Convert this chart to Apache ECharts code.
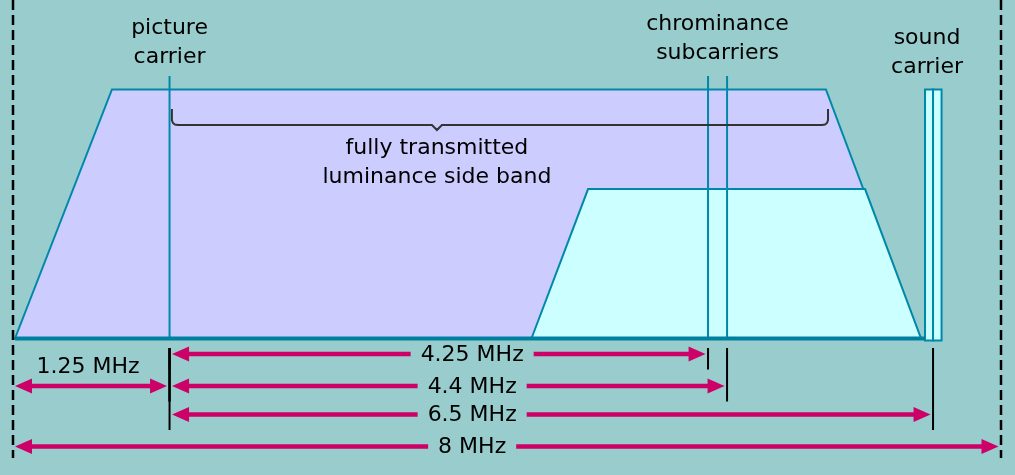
<!DOCTYPE html>
<html><head><meta charset="utf-8">
<script src="https://cdn.jsdelivr.net/npm/echarts@6/dist/echarts.min.js"></script>
<style>html,body{margin:0;padding:0;background:#99cccc}#c{width:1015px;height:475px}</style>
</head><body><div id="c"></div>
<script>
// ---- data: frequency positions in MHz from the lower channel edge (as drawn), amplitude 0..1 ----
const channelEdges = [0, 8];
const luminanceBand = [[0.02, 0], [0.805, 1], [6.583, 1], [7.34, 0]];
const chromaBand = [[4.2, 0], [4.658, 0.6], [6.9, 0.6], [7.353, 0]];
const pictureCarrier = 1.271;
const chromaSubcarriers = [5.629, 5.783];
const soundCarrier = [7.385, 7.45, 7.519];
const braceSpan = [1.29, 3.435, 6.6];
const carrierLabels = ['picture\ncarrier', 'chrominance\nsubcarriers', 'sound\ncarrier'];
const bandLabel = 'fully transmitted\nluminance side band';
const dimLabels = ['1.25 MHz', '4.25 MHz', '4.4 MHz', '6.5 MHz', '8 MHz'];
const dimFrom = [0, 1.271, 1.271, 1.271, 0];
const dimTo = [1.271, 5.629, 5.783, 7.45, 8];

// ---- layout / style constants ----
const FONT = '22px "DejaVu Sans", Verdana, sans-serif';
const BLUE = '#0088aa';
const MAGENTA = '#cc0066';
const BG = '#99cccc';
const dimRowOffset = [47.5, 15.5, 47.5, 76, 108];
const dimLabelX = [null, 3.72, 3.72, 3.72, 3.72];

const chart = echarts.init(document.getElementById('c'), null, {renderer: 'canvas'});

function bandItem(points, fill) {
  return function (params, api) {
    const pts = points.map(p => api.coord(p));
    return {type: 'polygon', shape: {points: pts}, style: {fill: fill, stroke: BLUE, lineWidth: 2}};
  };
}

const series = [];
series.push({type: 'custom', clip: false, silent: true, data: [0], renderItem: bandItem(luminanceBand, '#ccccff')});
series.push({type: 'custom', clip: false, silent: true, data: [0], renderItem: bandItem(chromaBand, '#ccffff')});
// carrier lines (picture + chroma)
series.push({type: 'custom', clip: false, silent: true,
  data: [pictureCarrier].concat(chromaSubcarriers).map(v => [v]),
  renderItem: function (params, api) {
    const b = api.coord([api.value(0), 0]);
    const t = api.coord([api.value(0), 1]);
    return {type: 'line', shape: {x1: b[0], y1: b[1], x2: t[0], y2: t[1] - 13.5}, style: {stroke: BLUE, lineWidth: 2}};
  }});
// sound carrier double bar
series.push({type: 'custom', clip: false, silent: true,
  data: [[soundCarrier[0], soundCarrier[1]], [soundCarrier[1], soundCarrier[2]]],
  renderItem: function (params, api) {
    const a = api.coord([api.value(0), 1]);
    const b = api.coord([api.value(1), 0]);
    return {type: 'rect', shape: {x: a[0], y: a[1], width: b[0] - a[0], height: b[1] - a[1] + 2}, style: {fill: '#ccffff', stroke: BLUE, lineWidth: 2}};
  }});
// baseline
series.push({type: 'custom', clip: false, silent: true, data: [[luminanceBand[0][0], soundCarrier[0]]],
  renderItem: function (params, api) {
    const a = api.coord([api.value(0), 0]);
    const b = api.coord([api.value(1), 0]);
    return {type: 'line', shape: {x1: a[0], y1: a[1], x2: b[0], y2: b[1]}, style: {stroke: '#0080a0', lineWidth: 4}};
  }});
// brace
series.push({type: 'custom', clip: false, silent: true, data: [braceSpan],
  renderItem: function (params, api) {
    const l = api.coord([api.value(0), 1]);
    const c = api.coord([api.value(1), 1]);
    const r = api.coord([api.value(2), 1]);
    const y = l[1] + 35.5, yt = y - 16;
    const pts = [[l[0], yt], [l[0], y - 5], [l[0] + 1, y - 2], [l[0] + 3, y - 0.5], [l[0] + 6, y],
      [c[0] - 5, y], [c[0], y + 5], [c[0] + 5, y],
      [r[0] - 6, y], [r[0] - 3, y - 0.5], [r[0] - 1, y - 2], [r[0], y - 5], [r[0], yt]];
    return {type: 'polyline', shape: {points: pts}, style: {stroke: '#333', lineWidth: 2, fill: null}};
  }});
// band label
series.push({type: 'custom', clip: false, silent: true, data: [[braceSpan[1], 1]],
  renderItem: function (params, api) {
    const p = api.coord([api.value(0), api.value(1)]);
    return {type: 'text', style: {text: bandLabel, x: p[0], y: p[1] + 73, align: 'center', verticalAlign: 'middle', font: FONT, lineHeight: 29, fill: '#000'}};
  }});
// carrier labels
series.push({type: 'custom', clip: false, silent: true,
  data: [[pictureCarrier, 43 - 76], [(chromaSubcarriers[0] + chromaSubcarriers[1]) / 2, 39 - 76], [soundCarrier[1], 52.5 - 76]],
  renderItem: function (params, api) {
    const p = api.coord([api.value(0), 1]);
    const dx = params.dataIndex === 2 ? -6 : 0;
    return {type: 'text', style: {text: carrierLabels[params.dataIndex], x: p[0] + dx, y: p[1] - 13.5 + api.value(1), align: 'center', verticalAlign: 'middle', font: FONT, lineHeight: 29, fill: '#000'}};
  }});
// dimension ticks
series.push({type: 'custom', clip: false, silent: true,
  data: dimFrom.map((f, i) => [f, dimTo[i]]),
  renderItem: function (params, api) {
    const i = params.dataIndex;
    const els = [];
    [api.value(0), api.value(1)].forEach(v => {
      if (v === channelEdges[0] || v === channelEdges[1]) return;
      const p = api.coord([v, 0]);
      els.push({type: 'line', shape: {x1: p[0], y1: p[1] + 9.5, x2: p[0], y2: p[1] + dimRowOffset[i] + 15.5}, style: {stroke: '#000', lineWidth: 2}});
    });
    return {type: 'group', children: els};
  }});
// dimension arrows
series.push({type: 'custom', clip: false, silent: true,
  data: dimFrom.map((f, i) => [f, dimTo[i]]),
  renderItem: function (params, api) {
    const i = params.dataIndex;
    const a = api.coord([api.value(0), 0]);
    const b = api.coord([api.value(1), 0]);
    const y = a[1] + dimRowOffset[i];
    const x1 = a[0] + 2.5, x2 = b[0] - 2.5;
    const L = 17, H = 7.5;
    const els = [
      {type: 'line', shape: {x1: x1 + L - 2, y1: y, x2: x2 - L + 2, y2: y}, style: {stroke: MAGENTA, lineWidth: 4.5}},
      {type: 'polygon', shape: {points: [[x1, y], [x1 + L, y - H], [x1 + L, y + H]]}, style: {fill: MAGENTA}},
      {type: 'polygon', shape: {points: [[x2, y], [x2 - L, y - H], [x2 - L, y + H]]}, style: {fill: MAGENTA}}
    ];
    if (dimLabelX[i] === null) {
      els.push({type: 'text', style: {text: dimLabels[i], x: (a[0] + b[0]) / 2 - 3, y: y - 19, align: 'center', verticalAlign: 'middle', font: FONT, fill: '#000'}});
    } else {
      const c = api.coord([dimLabelX[i], 0]);
      els.push({type: 'text', style: {text: dimLabels[i], x: c[0], y: y + 1, align: 'center', verticalAlign: 'middle', font: FONT, fill: '#000', backgroundColor: BG, padding: [0, 10]}});
    }
    return {type: 'group', children: els};
  }});
// channel edges (dashed)
series.push({type: 'custom', clip: false, silent: true, data: channelEdges.map(v => [v]),
  renderItem: function (params, api) {
    const p = api.coord([api.value(0), 0]);
    const t = api.coord([api.value(0), 1]);
    const x = Math.round(p[0]);
    return {type: 'line', shape: {x1: x, y1: t[1] - 89.5, x2: x, y2: p[1] + 119.5}, style: {stroke: '#000', lineWidth: 2.5, lineDash: [10, 5]}};
  }});

chart.setOption({
  backgroundColor: BG,
  animation: false,
  grid: {left: 12.5, right: 14, top: 89.5, bottom: 136.5},
  xAxis: {type: 'value', min: 0, max: 8, show: false},
  yAxis: {type: 'value', min: 0, max: 1, show: false},
  series: series
});
</script></body></html>
